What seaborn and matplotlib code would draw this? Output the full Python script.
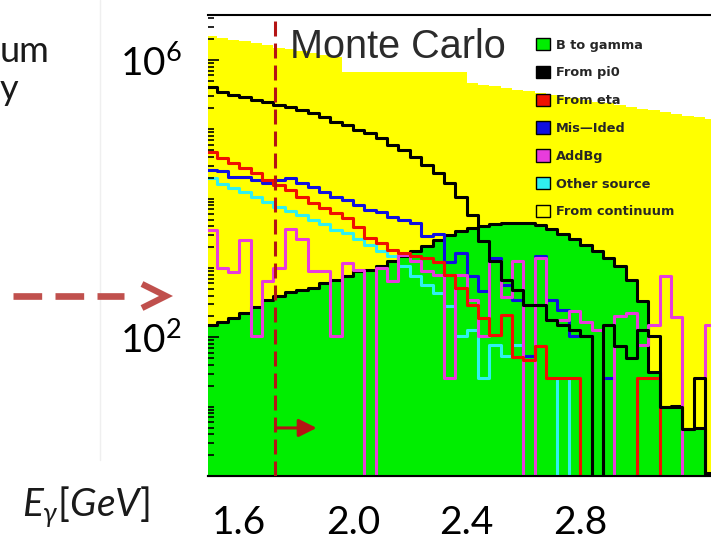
import numpy as np
import pandas as pd
import matplotlib
matplotlib.use("Agg")
import matplotlib.pyplot as plt
import seaborn as sns
from matplotlib.patches import Patch
from matplotlib.lines import Line2D
from matplotlib.ticker import FixedLocator, LogLocator, NullFormatter

# ---- binning of the photon energy spectrum (GeV) ----
BIN_LO, BIN_W, N_BINS = 1.48, 0.04, 45
bin_edges = BIN_LO + BIN_W * np.arange(N_BINS + 1)
bin_centers = 0.5 * (bin_edges[:-1] + bin_edges[1:])

# ---- Monte Carlo yields per bin (events / bin) ----
from_continuum = [2.22e6, 2.07e6, 1.94e6, 1.85e6, 1.73e6, 1.62e6, 1.51e6, 1.42e6,
                  1.33e6, 1.24e6, 1.16e6, 1.09e6,
                  6.7e5, 6.7e5, 6.7e5, 6.7e5, 6.7e5, 6.7e5, 6.7e5, 6.7e5, 6.7e5, 6.7e5, 6.7e5,
                  4.67e5, 4.40e5, 4.15e5, 3.93e5, 3.71e5, 3.51e5, 3.30e5, 3.12e5, 2.95e5,
                  2.79e5, 2.64e5, 2.49e5, 2.36e5, 2.22e5, 2.09e5, 1.98e5, 1.87e5, 1.77e5,
                  1.67e5, 1.58e5, 1.49e5, 1.41e5]
b_to_gamma = [152, 168, 192, 226, 276, 348, 397, 454, 485, 519, 612, 677, 755, 891, 943,
              1052, 1242, 1466, 1730, 2042, 2548, 3006, 3380, 3735, 4056, 4265, 4405, 4480,
              4480, 4125, 3670, 3110, 2630, 2160, 1730, 1390, 1052, 677, 329, 32, 10, 10.3,
              4.7, 5.0, 1.1]
from_pi0 = [4.02e5, 3.49e5, 3.13e5, 2.96e5, 2.65e5, 2.51e5, 2.25e5, 2.12e5, 1.90e5, 1.71e5,
            1.52e5, 1.29e5, 1.16e5, 9.8e4, 8.8e4, 7.4e4, 5.96e4, 5.05e4, 4.04e4, 3.07e4,
            2.33e4, 1.67e4, 1.07e4, 5850, 2410, 1242, 676, 485, 295, 295, 179, 152, 129,
            103, 0, 152, 74, 51, 129, 103, 10, 10, 4.7, 26, 0]
from_eta = [4.77e4, 3.87e4, 3.28e4, 2.78e4, 2.35e4, 1.87e4, 1.58e4, 1.34e4, 1.07e4, 8610,
            7290, 6180, 5240, 3960, 2700, 2285, 1830, 1640, 1465, 1403, 1228, 798, 519, 295,
            192, 109, 212, 52, 47.5, 74, 26, 26, 26, 0, 0, 0, 0, 0, 26, 26, 0, 0, 0, 0, 0]
mis_ided = [2.60e4, 2.52e4, 2.08e4, 2.08e4, 1.87e4, 1.67e4, 1.87e4, 1.97e4, 1.67e4, 1.49e4,
            1.26e4, 1.07e4, 9620, 8140, 6900, 6520, 5520, 4950, 4440, 2845, 3110, 1240, 1640,
            755, 459, 1400, 573, 348, 53, 1490, 348, 250, 103, 103, 0, 26,
            0, 0, 0, 0, 0, 0, 0, 0, 0]
add_bg = [3550, 1007, 881, 2548, 103, 639, 1007, 3670, 2635, 891, 891, 103, 1177, 942, 0,
          997, 639, 1549, 1241, 891, 798, 26, 798, 348, 105, 1241, 385, 1270, 0, 1390, 179,
          179, 236, 168, 129, 0, 205, 226, 78, 152, 755, 195, 0, 0, 152]
other_source = [1.97e4, 1.63e4, 1.42e4, 1.23e4, 1.07e4, 9080, 7690, 6670, 5840, 4950, 4340,
                3550, 3185, 2635, 2160, 1730, 1500, 1052, 755, 573, 435, 279, 103, 129, 26,
                78, 54, 78, 0, 0, 0, 26, 0, 0, 0, 0, 0, 0, 0, 0, 0, 0, 0, 0, 0]

series_names = ["B to gamma", "From pi0", "From eta", "Mis\u2014Ided", "AddBg",
                "Other source", "From continuum"]
series_colors = ["#00EE00", "#000000", "#F01000", "#1010E0", "#E83CDC", "#30F0F0", "#FFFF00"]

x_tick_values = [1.6, 2.0, 2.4, 2.8]
x_tick_labels = ["1.6", "2.0", "2.4", "2.8"]
y_tick_values = [1e2, 1e6]
y_tick_labels = [r"$10^2$", r"$10^6$"]
cut_energy = 1.727          # lower E_gamma cut
arrow_end_energy = 1.872
arrow_level = 4.93

# ---- style ----
sns.set_style("white")
plt.rcParams["font.family"] = ["Lato", "DejaVu Sans"]
plt.rcParams["mathtext.fontset"] = "custom"
plt.rcParams["mathtext.rm"] = "Lato"
plt.rcParams["mathtext.it"] = "Lato:italic"
plt.rcParams["mathtext.default"] = "regular"

W, H = 711, 541
fig = plt.figure(figsize=(W / 100, H / 100), dpi=100)
fig.patch.set_facecolor("white")


def fx(px):
    return px / W


def fy(py):
    return 1 - py / H


ax = fig.add_axes([fx(208), fy(476), fx(711) - fx(208), fy(15) - fy(476)])
ax.set_facecolor("white")
ax.set_yscale("log", nonpositive="clip")


def hist(values, **kw):
    frame = pd.DataFrame({"energy": bin_centers, "events": np.asarray(values, float)})
    sns.histplot(data=frame, x="energy", weights="events", bins=list(bin_edges),
                 element="step", stat="count", ax=ax, **kw)


# stacked look: continuum fill, signal fill, then the component outlines
hist(from_continuum, fill=True, color=series_colors[6], alpha=1, linewidth=0)
hist(b_to_gamma, fill=True, color=series_colors[0], alpha=1, linewidth=0)
hist(b_to_gamma, fill=False, color="black", linewidth=2.2)
hist(other_source, fill=False, color=series_colors[5], linewidth=2.2)
hist(mis_ided, fill=False, color=series_colors[3], linewidth=2.2)
hist(add_bg, fill=False, color=series_colors[4], linewidth=2.2)
hist(from_eta, fill=False, color=series_colors[2], linewidth=2.2)
hist(from_pi0, fill=False, color=series_colors[1], linewidth=2.2)

ax.set_xlim(1.4895, 3.2606)
ax.set_ylim(1, 4.45e6)
ax.set_xlabel("")
ax.set_ylabel("")

# energy cut marker
ax.axvline(cut_energy, color="#B41414", lw=2.2, dashes=(4.9, 2.3), zorder=5)
ax.annotate("", xy=(arrow_end_energy, arrow_level), xytext=(cut_energy, arrow_level),
            arrowprops=dict(arrowstyle="-|>,head_length=0.6,head_width=0.3",
                            color="#B41414", lw=2.2, mutation_scale=18,
                            shrinkA=0, shrinkB=0), zorder=6)

# frame
for side in ("left", "right"):
    ax.spines[side].set_visible(False)
for side in ("top", "bottom"):
    ax.spines[side].set_color("black")
    ax.spines[side].set_linewidth(1.5)
ax.set_axisbelow(False)

# axis ticks and labels
ax.set_xticks(x_tick_values, x_tick_labels)
ax.tick_params(axis="x", which="major", length=0, pad=21, labelsize=28, colors="black")
ax.xaxis.set_minor_locator(FixedLocator([]))

ax.set_yticks(y_tick_values, y_tick_labels)
ax.yaxis.set_minor_locator(LogLocator(base=10, subs=np.arange(1, 10), numticks=20))
ax.yaxis.set_minor_formatter(NullFormatter())
ax.tick_params(axis="y", which="both", direction="in", left=True, right=False,
               width=1.2, colors="black")
ax.tick_params(axis="y", which="major", length=8, pad=19, labelsize=28)
ax.tick_params(axis="y", which="minor", length=4.5)

root_x = ax.secondary_xaxis("bottom")
root_x.set_xticks(np.arange(1.6, 3.3, 0.24))
root_x.xaxis.set_minor_locator(FixedLocator(np.arange(1.54, 3.3, 0.06)))
root_x.tick_params(which="both", direction="in", labelbottom=False, width=1.3, colors="black")
root_x.tick_params(which="major", length=8)
root_x.tick_params(which="minor", length=4.5)
root_x.spines["bottom"].set_linewidth(1.5)

# legend
handles = [Patch(facecolor=c, edgecolor="black", linewidth=1.0) for c in series_colors]
ax.legend(handles, series_names, loc="upper left", bbox_to_anchor=(fx(536), fy(38)),
          bbox_transform=fig.transFigure, frameon=False,
          prop=dict(family="DejaVu Sans", weight="bold", size=9.3),
          handlelength=1.1, handleheight=1.1, handletextpad=0.45,
          labelspacing=1.1, borderpad=0, borderaxespad=0)

fig.text(fx(290), fy(58), "Monte Carlo", fontsize=28.5, family="Liberation Sans",
         color="#2b2b2b", va="baseline", ha="left", zorder=10)

# slide annotations around the plot
fig.text(fx(0), fy(62), "um", fontsize=26, va="baseline", ha="left", color="#1a1a1a")
fig.text(fx(0), fy(100), "y", fontsize=26, va="baseline", ha="left", color="#1a1a1a")
fig.text(fx(22), fy(517), r"$\mathit{E_{\gamma}[GeV]}$", fontsize=28, va="baseline",
         ha="left", color="#1a1a1a")
fig.add_artist(Line2D([fx(100), fx(100)], [fy(0), fy(460)], transform=fig.transFigure,
                      color="#EFEFEF", lw=1))
fig.add_artist(Line2D([fx(13), fx(124)], [fy(296), fy(296)], transform=fig.transFigure,
                      color="#C0504D", lw=4.8, dashes=(4.3, 2.0), solid_capstyle="butt",
                      dash_capstyle="butt"))
fig.add_artist(Line2D([fx(142), fx(166), fx(142)], [fy(284), fy(296), fy(308)],
                      transform=fig.transFigure, color="#C0504D", lw=4.5,
                      solid_joinstyle="miter", solid_capstyle="butt"))

fig.savefig("out.png", dpi=100)
